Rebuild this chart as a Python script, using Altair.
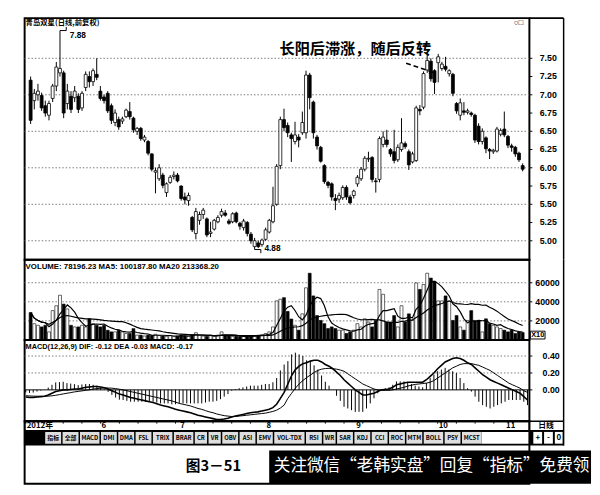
import altair as alt
import pandas as pd

# ---------------- data ----------------
opens = [7.20, 6.92, 7.00, 6.99, 6.85, 6.72, 6.95, 7.12, 7.30, 7.30,
         6.88, 6.98, 6.96, 6.98, 6.82, 7.10, 7.25, 7.18, 7.28, 7.05,
         6.97, 7.02, 6.85, 6.62, 6.66, 6.64, 6.70, 6.77, 6.68, 6.50,
         6.54, 6.38, 6.36, 6.19, 5.94, 5.85, 5.90, 5.66, 5.80, 5.88,
         5.90, 5.75, 5.60, 5.55, 5.32, 5.10, 5.28, 5.36, 5.30, 5.10,
         5.16, 5.26, 5.35, 5.38, 5.27, 5.26, 5.38, 5.24, 5.18, 5.25,
         5.09, 4.92, 4.97, 4.95, 5.02, 5.12, 5.26, 5.50, 6.03, 6.66,
         6.58, 6.45, 6.36, 6.42, 6.48, 6.48, 7.27, 6.90, 6.42, 6.28,
         6.03, 5.80, 5.78, 5.58, 5.57, 5.59, 5.73, 5.60, 5.62, 5.78,
         5.85, 5.98, 6.12, 6.14, 5.82, 5.84, 6.32, 6.38, 6.25, 6.22,
         6.11, 6.25, 6.33, 6.22, 6.08, 6.10, 6.80, 6.83, 7.34, 7.46,
         7.33, 7.44, 7.36, 7.39, 7.29, 7.28, 6.88, 6.72, 6.78, 6.76,
         6.75, 6.72, 6.57, 6.36, 6.41, 6.25, 6.22, 6.23, 6.46, 6.53,
         6.43, 6.30, 6.28, 6.20, 6.03]
highs = [7.25, 7.08, 7.15, 7.03, 6.92, 6.92, 7.15, 7.45, 7.88, 7.33,
         7.15, 7.05, 7.12, 7.02, 7.05, 7.32, 7.32, 7.36, 7.50, 7.12,
         7.00, 7.05, 6.88, 6.80, 6.70, 6.70, 6.81, 6.90, 6.70, 6.56,
         6.56, 6.45, 6.38, 6.20, 6.00, 6.05, 5.93, 5.80, 5.90, 5.95,
         5.93, 5.76, 5.66, 5.66, 5.34, 5.45, 5.40, 5.45, 5.32, 5.26,
         5.30, 5.35, 5.44, 5.42, 5.30, 5.39, 5.40, 5.26, 5.30, 5.27,
         5.12, 5.04, 5.00, 5.03, 5.18, 5.30, 5.74, 6.05, 6.70, 6.81,
         6.62, 6.48, 6.63, 6.46, 6.77, 7.33, 7.30, 6.92, 6.45, 6.30,
         6.05, 5.82, 5.80, 5.64, 5.66, 5.76, 5.76, 5.63, 5.70, 5.90,
         6.01, 6.16, 6.22, 6.16, 5.86, 6.43, 6.50, 6.52, 6.27, 6.52,
         6.32, 6.68, 6.36, 6.25, 6.22, 6.85, 6.86, 7.32, 7.55, 7.50,
         7.35, 7.56, 7.45, 7.52, 7.35, 7.30, 6.90, 6.95, 6.90, 6.81,
         6.77, 6.74, 6.61, 6.54, 6.43, 6.27, 6.26, 6.56, 6.54, 6.77,
         6.45, 6.33, 6.30, 6.22, 6.06]
lows = [6.60, 6.80, 6.92, 6.78, 6.70, 6.65, 6.90, 7.05, 7.25, 6.68,
        6.80, 6.75, 6.90, 6.75, 6.78, 7.05, 7.10, 7.12, 7.20, 6.92,
        6.88, 6.75, 6.60, 6.57, 6.52, 6.60, 6.68, 6.66, 6.48, 6.45,
        6.37, 6.35, 6.17, 5.95, 5.65, 5.82, 5.72, 5.60, 5.78, 5.84,
        5.80, 5.55, 5.50, 5.48, 5.12, 5.02, 5.22, 5.30, 5.05, 5.05,
        5.14, 5.24, 5.32, 5.33, 5.22, 5.24, 5.24, 5.15, 5.14, 5.06,
        4.96, 4.88, 4.90, 4.92, 5.00, 5.10, 5.24, 5.48, 5.98, 6.50,
        6.42, 6.08, 6.32, 6.28, 6.45, 6.40, 6.80, 6.40, 6.25, 6.07,
        5.78, 5.72, 5.55, 5.42, 5.52, 5.56, 5.56, 5.50, 5.58, 5.74,
        5.82, 5.95, 6.08, 5.80, 5.66, 5.80, 6.28, 6.28, 6.15, 6.06,
        6.08, 6.22, 6.26, 5.97, 6.06, 6.08, 6.72, 6.80, 7.30, 7.18,
        7.01, 7.17, 7.33, 7.32, 7.25, 6.98, 6.74, 6.65, 6.72, 6.73,
        6.70, 6.34, 6.32, 6.32, 6.20, 6.12, 6.19, 6.21, 6.43, 6.42,
        6.27, 6.22, 6.15, 6.08, 5.95]
closes = [6.65, 7.02, 7.05, 6.82, 6.75, 6.88, 7.12, 7.38, 7.36, 6.75,
          7.05, 6.80, 7.05, 6.80, 7.02, 7.28, 7.18, 7.33, 7.24, 6.95,
          6.92, 6.78, 6.65, 6.75, 6.56, 6.67, 6.79, 6.70, 6.52, 6.54,
          6.40, 6.42, 6.20, 5.98, 5.96, 6.00, 5.76, 5.78, 5.87, 5.90,
          5.82, 5.58, 5.56, 5.62, 5.15, 5.40, 5.36, 5.42, 5.08, 5.12,
          5.28, 5.32, 5.40, 5.35, 5.24, 5.37, 5.26, 5.20, 5.27, 5.10,
          5.00, 5.00, 4.92, 5.01, 5.15, 5.28, 5.48, 6.02, 6.66, 6.55,
          6.48, 6.40, 6.45, 6.38, 6.62, 7.27, 6.96, 6.48, 6.30, 6.09,
          5.81, 5.76, 5.60, 5.55, 5.62, 5.73, 5.60, 5.52, 5.68, 5.87,
          5.98, 6.13, 6.13, 5.84, 5.81, 6.40, 6.42, 6.32, 6.19, 6.10,
          6.28, 6.34, 6.29, 6.04, 6.19, 6.82, 6.78, 7.29, 7.47, 7.22,
          7.17, 7.52, 7.42, 7.35, 7.33, 7.02, 6.78, 6.89, 6.76, 6.78,
          6.73, 6.38, 6.36, 6.50, 6.26, 6.23, 6.24, 6.53, 6.51, 6.45,
          6.31, 6.28, 6.19, 6.11, 5.98]
volumes = [28700, 17100, 15400, 13700, 15400, 8500, 30800, 35900, 46900, 37600,
           32500, 15400, 13700, 13700, 15400, 13700, 22200, 17100, 15400, 13700,
           15400, 10200, 8500, 8500, 10200, 8500, 6800, 6800, 11900, 5100,
           5100, 4200, 5100, 4500, 6000, 4800, 4200, 3800, 4500, 3600,
           4000, 5200, 4300, 3800, 5500, 7600, 5000, 4200, 3800, 4500,
           4000, 5100, 8500, 5000, 4200, 3600, 4000, 3500, 3800, 4200,
           3600, 4500, 5000, 5500, 6800, 8500, 13700, 41000, 42700, 44400,
           30000, 22000, 15400, 10300, 27400, 54700, 70000, 46200, 25600, 20500,
           17100, 12000, 13700, 12000, 10300, 10300, 6800, 8500, 10300, 17100,
           13700, 22200, 18800, 13700, 20500, 53000, 47900, 18800, 18800, 25600,
           13700, 35900, 18800, 27400, 20500, 59800, 53000, 58100, 70000, 64900,
           61500, 41000, 41000, 46200, 41000, 20500, 25600, 13700, 10300, 20500,
           30800, 20500, 20500, 8500, 22200, 17100, 15400, 13700, 12000, 10300,
           8500, 10300, 6800, 8500, 7820]
dif = [-0.085, -0.09, -0.09, -0.085, -0.08, -0.075, -0.06, -0.04, -0.02, -0.01,
       0.00, 0.00, 0.005, 0.01, 0.01, 0.02, 0.03, 0.035, 0.04, 0.04,
       0.035, 0.025, 0.01, -0.01, -0.03, -0.05, -0.06, -0.075, -0.09, -0.10,
       -0.11, -0.12, -0.13, -0.14, -0.15, -0.165, -0.18, -0.19, -0.20, -0.215,
       -0.23, -0.24, -0.25, -0.26, -0.27, -0.285, -0.30, -0.31, -0.32, -0.33,
       -0.34, -0.35, -0.35, -0.345, -0.335, -0.32, -0.31, -0.30, -0.29, -0.28,
       -0.27, -0.265, -0.26, -0.25, -0.24, -0.23, -0.21, -0.17, -0.10, -0.03,
       0.07, 0.17, 0.24, 0.28, 0.31, 0.32, 0.34, 0.35, 0.35, 0.33,
       0.30, 0.28, 0.25, 0.21, 0.17, 0.12, 0.08, 0.04, 0.00, -0.03,
       -0.06, -0.06, -0.05, -0.04, -0.02, 0.00, 0.005, 0.01, 0.03, 0.06,
       0.07, 0.08, 0.09, 0.09, 0.09, 0.09, 0.09, 0.12, 0.16, 0.20,
       0.25, 0.29, 0.33, 0.35, 0.37, 0.38, 0.37, 0.35, 0.32, 0.30,
       0.26, 0.22, 0.18, 0.15, 0.12, 0.10, 0.08, 0.06, 0.04, 0.02,
       0.00, -0.02, -0.04, -0.08, -0.12]
dea = [-0.07, -0.072, -0.074, -0.075, -0.076, -0.076, -0.074, -0.07, -0.064, -0.056,
       -0.048, -0.04, -0.032, -0.024, -0.018, -0.012, -0.005, 0.00, 0.01, 0.015,
       0.02, 0.022, 0.022, 0.02, 0.015, 0.008, 0.00, -0.01, -0.02, -0.03,
       -0.04, -0.05, -0.06, -0.07, -0.08, -0.09, -0.10, -0.11, -0.12, -0.13,
       -0.145, -0.16, -0.17, -0.18, -0.19, -0.205, -0.22, -0.23, -0.245, -0.26,
       -0.27, -0.285, -0.295, -0.305, -0.31, -0.315, -0.315, -0.31, -0.305, -0.30,
       -0.295, -0.29, -0.285, -0.28, -0.275, -0.265, -0.255, -0.24, -0.215, -0.18,
       -0.10, -0.04, 0.02, 0.07, 0.11, 0.145, 0.175, 0.205, 0.23, 0.245,
       0.252, 0.255, 0.25, 0.245, 0.235, 0.22, 0.19, 0.16, 0.13, 0.10,
       0.07, 0.05, 0.03, 0.01, 0.00, -0.005, -0.005, -0.005, 0.00, 0.01,
       0.02, 0.03, 0.045, 0.055, 0.065, 0.07, 0.075, 0.08, 0.09, 0.11,
       0.14, 0.17, 0.20, 0.23, 0.26, 0.28, 0.30, 0.31, 0.31, 0.31,
       0.30, 0.29, 0.27, 0.25, 0.23, 0.20, 0.17, 0.14, 0.11, 0.08,
       0.06, 0.04, 0.02, -0.01, -0.03]

price_ticks = [5.00, 5.25, 5.50, 5.75, 6.00, 6.25, 6.50, 6.75, 7.00, 7.25, 7.50]
price_grid = [5.0, 5.5, 6.0, 6.5, 7.0, 7.5]
vol_ticks = [20000, 40000, 60000]
macd_ticks = [0.0, 0.2, 0.4]
macd_grid = [0.2, 0.4]
month_labels = ["2012年", "6", "7", "8", "9", "10", "11"]
month_starts = [0, 20, 41, 64, 88, 110, 128]
buttons = ["指标", "全部", "MACD", "DMI", "DMA", "FSL", "TRIX", "BRAR", "CR", "VR",
           "OBV", "ASI", "EMV", "VOL-TDX", "RSI", "WR", "SAR", "KDJ", "CCI", "ROC",
           "MTM", "BOLL", "PSY", "MCST"]

header_price = "青岛双星(日线,前复权)"
header_vol = "VOLUME: 78196.23  MA5: 100187.80  MA20  213368.20"
header_macd = "MACD(12,26,9)  DIF: -0.12  DEA -0.03  MACD: -0.17"
note_text = "长阳后滞涨，随后反转"
fig_no = "图3－51"
cover_text = "关注微信“老韩实盘”回复“指标”免费领"

# ---------------- layout constants ----------------
W = 516
H_PRICE, H_VOL, H_MACD, H_FOOT = 247, 82, 83, 64
X_DOMAIN = [-0.3, 134.5]
FONT = "Liberation Sans"
CJK = "Noto Sans CJK SC"

n = len(closes)
df = pd.DataFrame({"i": list(range(n)), "open": opens, "high": highs, "low": lows,
                   "close": closes, "vol": volumes, "dif": dif, "dea": dea})
df["up"] = (df["close"] >= df["open"]).map({True: "up", False: "down"})
one = pd.DataFrame({"a": [0]})

xs = alt.Scale(domain=X_DOMAIN, nice=False, zero=False)


def X(field="i"):
    return alt.X(f"{field}:Q", scale=xs, axis=None)


def right_labels(values, scale, fmt, right_px):
    d = pd.DataFrame({"v": values})
    ticks = alt.Chart(d).mark_rule(color="black", strokeWidth=1).encode(
        x=alt.value(W), x2=alt.value(W + 3), y=alt.Y("v:Q", scale=scale, axis=None))
    labels = alt.Chart(d).mark_text(align="right", baseline="middle", font=FONT,
                                    fontSize=9, fontWeight="bold", color="black").encode(
        x=alt.value(right_px), y=alt.Y("v:Q", scale=scale, axis=None),
        text=alt.Text("v:Q", format=fmt))
    return [ticks, labels]


def frame_right(h):
    return alt.Chart(one).mark_rule(color="black", strokeWidth=1.5).encode(
        x=alt.value(551), y=alt.value(0), y2=alt.value(h))


# ---------------- price panel ----------------
ps = alt.Scale(domain=[4.74, 8.05], nice=False, zero=False)
pgrid = alt.Chart(pd.DataFrame({"p": price_grid})).mark_rule(
    color="#777777", strokeDash=[1.5, 2], strokeWidth=1).encode(
    y=alt.Y("p:Q", scale=ps, axis=None))
wick = alt.Chart(df).mark_rule(color="black", strokeWidth=1).encode(
    x=X(), y=alt.Y("low:Q", scale=ps, axis=None), y2="high:Q")
body = alt.Chart(df).mark_bar(size=3, stroke="black", strokeWidth=0.8).encode(
    x=X(), y=alt.Y("open:Q", scale=ps, axis=None), y2="close:Q",
    fill=alt.Fill("up:N", scale=alt.Scale(domain=["up", "down"], range=["white", "black"]),
                  legend=None))

hi_i = max(range(n), key=lambda k: highs[k])
lo_i = min(range(n), key=lambda k: lows[k])
ext_hi = pd.DataFrame({"i": [hi_i], "p": [highs[hi_i]], "t": [f"{highs[hi_i]:.2f}"]})
ext_lo = pd.DataFrame({"i": [lo_i], "p": [lows[lo_i]], "t": [f"{lows[lo_i]:.2f}"]})


def extreme(d, sign, dy):
    flag = alt.Chart(d).transform_calculate(i2="datum.i + 1.7").mark_rule(
        color="black", strokeWidth=1).encode(
        x=X(), x2="i2:Q", y=alt.Y("p:Q", scale=ps, axis=None))
    tick = alt.Chart(d).transform_calculate(
        i2="datum.i + 1.7", p2=f"datum.p - {0.05 * sign}").mark_rule(
        color="black", strokeWidth=1).encode(
        x=X("i2"), y=alt.Y("p:Q", scale=ps, axis=None), y2="p2:Q")
    txt = alt.Chart(d).mark_text(align="left", baseline="middle", dx=10, dy=dy, font=FONT,
                                 fontSize=8.5, fontWeight="bold", color="black").encode(
        x=X(), y=alt.Y("p:Q", scale=ps, axis=None), text="t:N")
    return [flag, tick, txt]


hdr_p = alt.Chart(one).mark_text(align="left", baseline="middle", font=CJK, fontSize=7.5,
                                 fontWeight="bold", color="black").encode(
    x=alt.value(1), y=alt.value(5), text=alt.value(header_price))
icons = alt.Chart(one).mark_text(align="left", baseline="middle", font=FONT, fontSize=8,
                                 color="black").encode(
    x=alt.value(500), y=alt.value(5), text=alt.value("○□"))
note = alt.Chart(one).mark_text(align="center", baseline="middle", font=CJK, fontSize=15.5,
                                fontWeight="bold", color="black").encode(
    x=alt.value(338), y=alt.value(32), text=alt.value(note_text))
arrow = alt.Chart(one).mark_rule(color="black", strokeWidth=1.6, strokeDash=[5, 3]).encode(
    x=alt.value(390), y=alt.value(46), x2=alt.value(415), y2=alt.value(54.5))
arrow_head = alt.Chart(one).mark_point(shape="triangle-right", size=28, filled=True,
                                       color="black", opacity=1, angle=18).encode(
    x=alt.value(416), y=alt.value(55))
top_ext = alt.Chart(one).mark_rule(color="black", strokeWidth=2).encode(
    x=alt.value(W), x2=alt.value(551), y=alt.value(0))

price = alt.layer(pgrid, wick, body, *extreme(ext_hi, -1, 5), *extreme(ext_lo, 1, -2),
                  hdr_p, icons, note, arrow, arrow_head, top_ext,
                  *right_labels(price_ticks, ps, ".2f", 544),
                  frame_right(H_PRICE)).properties(width=W, height=H_PRICE)

# ---------------- volume panel ----------------
vs = alt.Scale(domain=[0, 84100], nice=False)
vgrid = alt.Chart(pd.DataFrame({"v": vol_ticks})).mark_rule(
    color="#777777", strokeDash=[1.5, 2], strokeWidth=1).encode(
    y=alt.Y("v:Q", scale=vs, axis=None))
vbars = alt.Chart(df).mark_bar(size=3, stroke="black", strokeWidth=0.6).encode(
    x=X(), y=alt.Y("vol:Q", scale=vs, axis=None),
    fill=alt.Fill("up:N", scale=alt.Scale(domain=["up", "down"], range=["#c4c4c4", "black"]),
                  legend=None))
ma5 = alt.Chart(df).transform_window(
    ma="mean(vol)", frame=[-4, 0], sort=[alt.SortField("i")]).mark_line(
    color="black", strokeWidth=1.2).encode(x=X(), y=alt.Y("ma:Q", scale=vs, axis=None))
ma20 = alt.Chart(df).transform_window(
    ma="mean(vol)", frame=[-19, 0], sort=[alt.SortField("i")]).mark_line(
    color="black", strokeWidth=1.2).encode(x=X(), y=alt.Y("ma:Q", scale=vs, axis=None))
hdr_v = alt.Chart(one).mark_text(align="left", baseline="middle", font=FONT, fontSize=8,
                                 fontWeight="bold", color="black").encode(
    x=alt.value(1), y=alt.value(7), text=alt.value(header_vol))
x10_box = alt.Chart(one).mark_rect(fill="white", stroke="black", strokeWidth=1).encode(
    x=alt.value(517), x2=alt.value(532), y=alt.value(73), y2=alt.value(81))
x10 = alt.Chart(one).mark_text(align="center", baseline="middle", font=FONT, fontSize=7.5,
                               fontWeight="bold", color="black").encode(
    x=alt.value(524.5), y=alt.value(77), text=alt.value("X10"))

volume = alt.layer(vgrid, vbars, ma20, ma5, hdr_v, x10_box, x10,
                   *right_labels(vol_ticks, vs, "d", 547),
                   frame_right(H_VOL)).properties(width=W, height=H_VOL)

# ---------------- MACD panel ----------------
ms = alt.Scale(domain=[-0.37, 0.59], nice=False, zero=False)
mgrid = alt.Chart(pd.DataFrame({"m": macd_grid})).mark_rule(
    color="#777777", strokeDash=[1.5, 2], strokeWidth=1).encode(
    y=alt.Y("m:Q", scale=ms, axis=None))
zero = alt.Chart(pd.DataFrame({"m": [0.0]})).mark_rule(color="black", strokeWidth=1).encode(
    y=alt.Y("m:Q", scale=ms, axis=None))
hist = alt.Chart(df).transform_calculate(
    h="2*(datum.dif - datum.dea)", z="0").mark_rule(
    color="black", strokeWidth=1).encode(
    x=X(), y=alt.Y("h:Q", scale=ms, axis=None), y2="z:Q")
dif_line = alt.Chart(df).mark_line(color="black", strokeWidth=1.6).encode(
    x=X(), y=alt.Y("dif:Q", scale=ms, axis=None))
dea_line = alt.Chart(df).mark_line(color="black", strokeWidth=1).encode(
    x=X(), y=alt.Y("dea:Q", scale=ms, axis=None))
hdr_m = alt.Chart(one).mark_text(align="left", baseline="middle", font=FONT, fontSize=7.5,
                                 fontWeight="bold", color="black").encode(
    x=alt.value(1), y=alt.value(7), text=alt.value(header_macd))

macd = alt.layer(mgrid, zero, hist, dea_line, dif_line, hdr_m,
                 *right_labels(macd_ticks, ms, ".2f", 547),
                 frame_right(H_MACD)).properties(width=W, height=H_MACD)

# ---------------- footer (date row, button strip, caption) ----------------
px_per = W / (X_DOMAIN[1] - X_DOMAIN[0])


def ipx(i):
    return 21 + (i - X_DOMAIN[0]) * px_per


fx = alt.Scale(domain=[21, 21 + W], nice=False, zero=False)
fy = alt.Scale(domain=[423, 423 + H_FOOT], nice=False, zero=False, reverse=True)

rects = [dict(x=21, x2=572, y=432, y2=448, f="black"),
         dict(x=488, x2=536, y=434, y2=446, f="white"),
         dict(x=541, x2=550, y=434, y2=446, f="white"),
         dict(x=552, x2=561, y=434, y2=446, f="white"),
         dict(x=563, x2=571, y=434, y2=446, f="white"),
         dict(x=271, x2=600, y=453, y2=487, f="black")]
texts = [dict(x=ipx(i) + 1, y=427.5, t=t, s=8, c="black", a="left", w="bold")
         for i, t in zip(month_starts, month_labels)]
texts += [dict(x=554, y=427.5, t="日线", s=8, c="black", a="center", w="bold"),
          dict(x=545.5, y=440, t="+", s=8, c="black", a="center", w="bold"),
          dict(x=556.5, y=440, t="-", s=8, c="black", a="center", w="bold"),
          dict(x=567, y=440, t="0", s=8, c="black", a="center", w="bold"),
          dict(x=214, y=469, t=fig_no, s=15, c="black", a="center", w="bold"),
          dict(x=437, y=469, t=cover_text, s=17, c="white", a="center", w="normal")]


def bw(s):
    return 19.0 if any(ord(c) > 127 for c in s) else 6.0 + 4.3 * len(s)


raw = [bw(s) for s in buttons]
gap = 1.5
k = ((488 - 42) - gap * (len(raw) - 1)) / sum(raw)
cur = 42.0
for s, w in zip(buttons, raw):
    w2 = w * k
    rects.append(dict(x=cur, x2=cur + w2, y=434, y2=446, f="#dedede"))
    texts.append(dict(x=cur + w2 / 2, y=440, t=s, s=6, c="black", a="center", w="bold"))
    cur += w2 + gap

rects_df = pd.DataFrame(rects)
texts_df = pd.DataFrame(texts)
vlines_df = pd.DataFrame([dict(x=21, y=423, y2=448), dict(x=537, y=423, y2=432),
                          dict(x=572, y=423, y2=448)])
hlines_df = pd.DataFrame([dict(x=21, x2=572, y=423)])
ticks_df = pd.DataFrame({"x": [ipx(i) for i in range(0, n, 5)]})
ticks_df["y"] = 423
ticks_df["y2"] = 425.5

f_rect = alt.Chart(rects_df).mark_rect().encode(
    x=alt.X("x:Q", scale=fx, axis=None), x2="x2:Q",
    y=alt.Y("y:Q", scale=fy, axis=None), y2="y2:Q",
    fill=alt.Fill("f:N", scale=None))
f_vlines = alt.Chart(vlines_df).mark_rule(color="black", strokeWidth=1.5).encode(
    x=alt.X("x:Q", scale=fx, axis=None), y=alt.Y("y:Q", scale=fy, axis=None), y2="y2:Q")
f_hline = alt.Chart(hlines_df).mark_rule(color="black", strokeWidth=1.5).encode(
    x=alt.X("x:Q", scale=fx, axis=None), x2="x2:Q", y=alt.Y("y:Q", scale=fy, axis=None))
f_ticks = alt.Chart(ticks_df).mark_rule(color="black", strokeWidth=1).encode(
    x=alt.X("x:Q", scale=fx, axis=None), y=alt.Y("y:Q", scale=fy, axis=None), y2="y2:Q")


def ftext(align, weight):
    sub = texts_df[(texts_df.a == align) & (texts_df.w == weight)]
    return alt.Chart(sub).mark_text(align=align, baseline="middle", font=CJK,
                                    fontWeight=weight).encode(
        x=alt.X("x:Q", scale=fx, axis=None), y=alt.Y("y:Q", scale=fy, axis=None),
        text="t:N", size=alt.Size("s:Q", scale=None, legend=None),
        color=alt.Color("c:N", scale=None))


footer = alt.layer(f_rect, f_vlines, f_hline, f_ticks,
                   ftext("left", "bold"), ftext("center", "bold"),
                   ftext("center", "normal")).properties(width=W, height=H_FOOT)

chart = alt.vconcat(price, volume, macd, footer, spacing=0, bounds="flush").properties(
    padding={"left": 13, "top": 3, "right": 0, "bottom": 0},
    background="white").configure_view(stroke="black", strokeWidth=2)

chart.save("out.html", embed_options={"renderer": "svg", "actions": False})
